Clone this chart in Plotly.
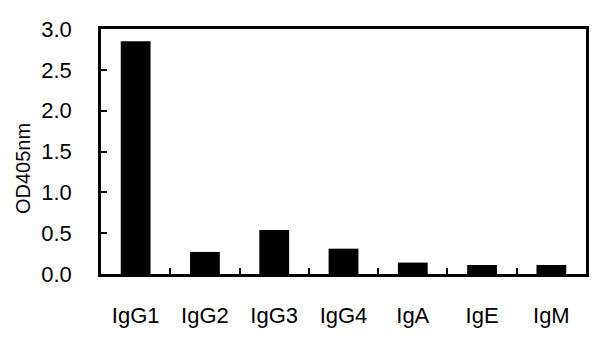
import plotly.graph_objects as go

categories = ["IgG1", "IgG2", "IgG3", "IgG4", "IgA", "IgE", "IgM"]
values = [2.85, 0.27, 0.54, 0.31, 0.14, 0.11, 0.11]
y_ticks = [0.0, 0.5, 1.0, 1.5, 2.0, 2.5, 3.0]
y_tick_labels = ["0.0", "0.5", "1.0", "1.5", "2.0", "2.5", "3.0"]
y_title = "OD405nm"

font_family = "Liberation Sans, Arial, sans-serif"

fig = go.Figure(
    go.Bar(
        x=categories,
        y=values,
        marker=dict(color="black", line=dict(width=0)),
        width=0.43,
    )
)

fig.update_layout(
    width=600,
    height=354,
    margin=dict(l=101, r=14, t=29, b=80),
    plot_bgcolor="white",
    paper_bgcolor="white",
    showlegend=False,
    font=dict(family=font_family, size=22, color="black"),
    annotations=[
        dict(
            text=y_title,
            xref="paper",
            yref="paper",
            x=-0.162,
            y=0.43,
            xanchor="center",
            yanchor="middle",
            textangle=-90,
            showarrow=False,
            font=dict(size=20, color="black"),
        )
    ],
)

fig.update_yaxes(
    range=[0, 3.0],
    tickvals=y_ticks,
    ticktext=y_tick_labels,
    ticks="inside",
    ticklen=6,
    tickwidth=2,
    tickcolor="black",
    showline=True,
    linecolor="black",
    linewidth=2.5,
    mirror=True,
    showgrid=False,
    zeroline=False,
    ticklabelstandoff=22,
    tickfont=dict(size=22),
)

fig.update_xaxes(
    ticks="inside",
    tickson="boundaries",
    ticklen=6,
    tickwidth=2,
    tickcolor="black",
    showline=True,
    linecolor="black",
    linewidth=2.5,
    mirror=True,
    showgrid=False,
    tickfont=dict(size=22),
    ticklabelstandoff=20,
)

fig.write_html("out.html")
